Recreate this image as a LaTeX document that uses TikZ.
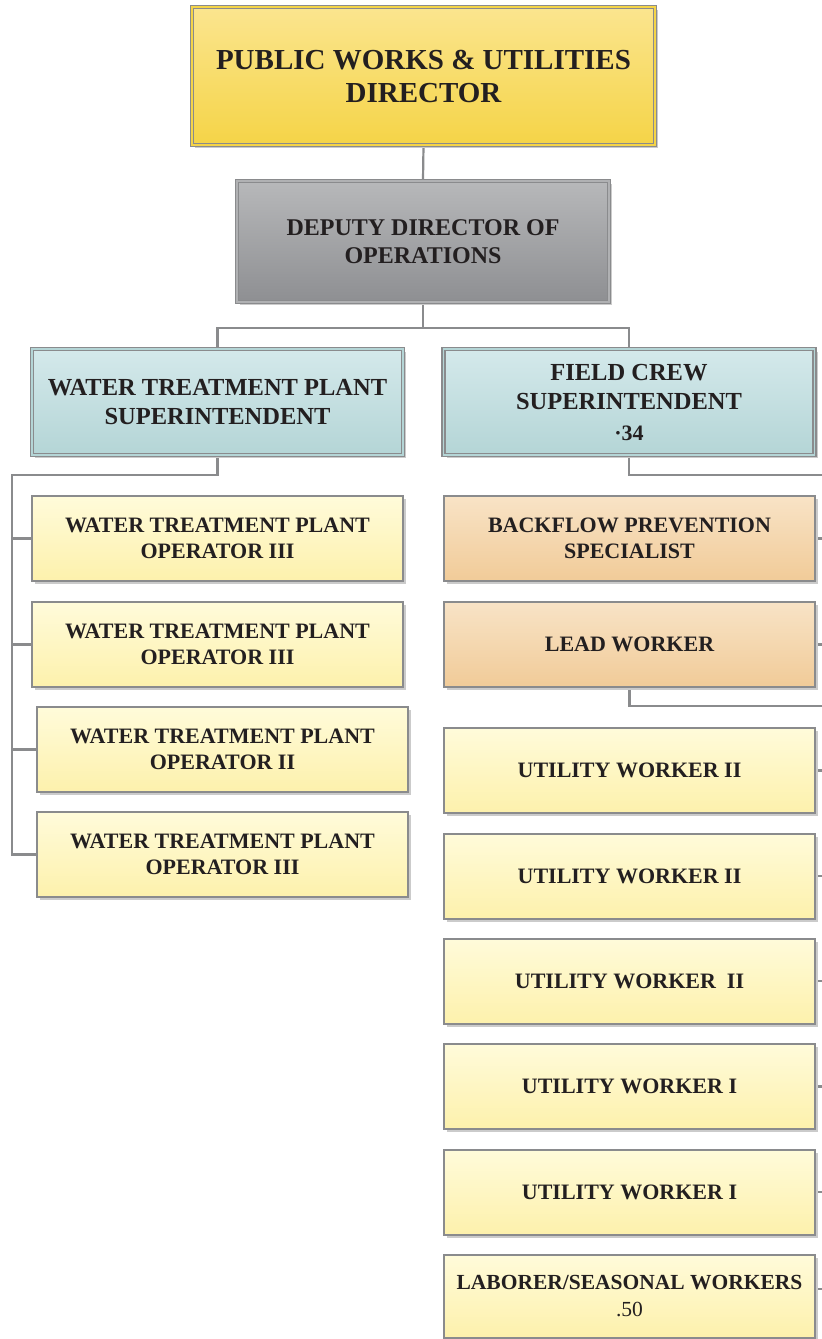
\documentclass[tikz,border=0pt]{standalone}
\usepackage{fontspec}
\setmainfont{Liberation Serif}
\usetikzlibrary{shadows,backgrounds}

\definecolor{txt}{HTML}{231F20}
\definecolor{bord}{HTML}{8A8B8D}
\definecolor{wire}{HTML}{8A8B8D}
\definecolor{shadowc}{HTML}{CBCBCB}
\definecolor{goldT}{HTML}{FBE58F}
\definecolor{goldB}{HTML}{F5D447}
\definecolor{greyT}{HTML}{B7B8BA}
\definecolor{greyB}{HTML}{8E8F92}
\definecolor{blueT}{HTML}{D4E9EB}
\definecolor{blueB}{HTML}{B4D5D6}
\definecolor{paleT}{HTML}{FFFBDA}
\definecolor{paleB}{HTML}{FDF1AC}
\definecolor{tanT}{HTML}{F8E3C6}
\definecolor{tanB}{HTML}{F1CB98}

\tikzset{
  box/.style={rectangle, inner sep=0pt, align=center, text=txt,
    drop shadow={shadow xshift=3pt, shadow yshift=-3pt, fill=shadowc, opacity=1}},
  framed/.style={box, draw=bord, line width=1.5pt, double distance=1.6pt},
  plain/.style={box, draw=bord, line width=2pt,
    minimum width=371pt, minimum height=85pt,
    font=\bfseries\fontsize{22}{26}\selectfont},
  gold/.style={framed, double=goldB, shading=axis, top color=goldT, bottom color=goldB,
    minimum width=463pt, minimum height=138pt,
    font=\bfseries\fontsize{29}{33}\selectfont},
  grey/.style={framed, double=greyB!70!white, shading=axis, top color=greyT, bottom color=greyB,
    minimum width=372pt, minimum height=121pt,
    font=\bfseries\fontsize{24}{28}\selectfont},
  supv/.style={framed, double=blueB, shading=axis, top color=blueT, bottom color=blueB,
    minimum width=371pt, minimum height=106pt,
    font=\bfseries\fontsize{24.5}{29}\selectfont},
  pale/.style={plain, shading=axis, top color=paleT, bottom color=paleB},
  tan/.style={plain, shading=axis, top color=tanT, bottom color=tanB},
  wireline/.style={draw=wire, line width=2.2pt}
}

\begin{document}
\begin{tikzpicture}[x=1pt, y=-1pt]
\useasboundingbox (0,0) rectangle (822,1339);

% management
\node[gold] (dir) at (423.5,76) {PUBLIC WORKS \& UTILITIES\\DIRECTOR};
\node[grey] (dep) at (423,241.5) {DEPUTY DIRECTOR OF\\OPERATIONS};
\node[supv] (wsup) at (217.5,402) {WATER TREATMENT PLANT\\SUPERINTENDENT};
\node[supv] (fsup) at (629,402) {FIELD CREW\\SUPERINTENDENT\\[2pt]{\fontsize{22}{26}\selectfont ·34}};

% water treatment plant staff
\node[pale] (w1) at (217.5,538.5) {WATER TREATMENT PLANT\\OPERATOR III};
\node[pale] (w2) at (217.5,644.5) {WATER TREATMENT PLANT\\OPERATOR III};
\node[pale] (w3) at (222.5,749.5) {WATER TREATMENT PLANT\\OPERATOR II};
\node[pale] (w4) at (222.5,854.5) {WATER TREATMENT PLANT\\OPERATOR III};

% field crew staff
\node[tan] (bf) at (629.5,538.5) {BACKFLOW PREVENTION\\SPECIALIST};
\node[tan] (lw) at (629.5,644.5) {LEAD WORKER};
\node[pale] (u1) at (629.5,770.5) {UTILITY WORKER II};
\node[pale] (u2) at (629.5,876) {UTILITY WORKER II};
\node[pale] (u3) at (629.5,981) {UTILITY WORKER\ \ II};
\node[pale] (u4) at (629.5,1086.5) {UTILITY WORKER I};
\node[pale] (u5) at (629.5,1192) {UTILITY WORKER I};
\node[pale, minimum height=83pt, font=\bfseries\fontsize{21.5}{27}\selectfont] (lab) at (629.5,1296) {LABORER/SEASONAL WORKERS\\{\mdseries .50}};

% junction points
\coordinate (j1) at (423,328);
\coordinate (lbus) at (12,475);
\coordinate (rbus) at (822,475);
\coordinate (rbus2) at (822,706);

\begin{scope}[on background layer]
  \fill[white] (0,0) rectangle (822,1339);
  \draw[wireline] (dir.south) -- (dep.north);
  \draw[wireline] (dep.south) -- (j1);
  \draw[wireline] (wsup.north) |- (j1) -| (fsup.north);
  \draw[wireline] (wsup.south) |- (lbus) |- (w4.west);
  \foreach \n in {w1,w2,w3} \draw[wireline] (lbus) |- (\n.west);
  \draw[wireline] (fsup.south) |- (rbus);
  \draw[wireline] (lw.south) |- (rbus2);
  \foreach \n in {bf,lw,u1,u2,u3,u4,u5} \draw[wireline] (\n.east) -- (\n.east -| rbus);
  \draw[wireline] ([yshift=7pt]lab.east) -- ([yshift=7pt]lab.east -| rbus);
\end{scope}
\end{tikzpicture}
\end{document}
